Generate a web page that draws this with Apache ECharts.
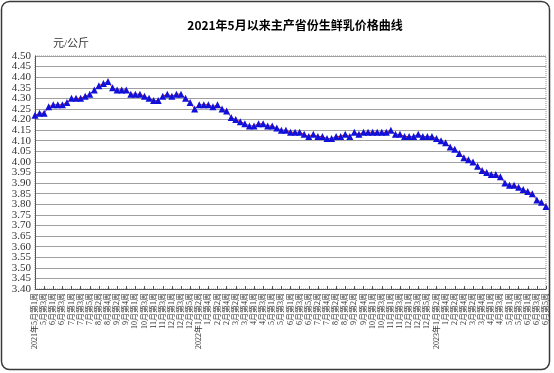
<!DOCTYPE html>
<html>
<head>
<meta charset="utf-8">
<script src="https://cdn.jsdelivr.net/npm/echarts@6/dist/echarts.min.js"></script>
<style>
html,body{margin:0;padding:0;background:#fff;}
#main{width:554px;height:373px;}
</style>
</head>
<body>
<div id="main"></div>
<script>
const titleText = '2021年5月以来主产省份生鲜乳价格曲线';
const unitText = '元/公斤';
const categories = [
'2021年5月第1周','5月第2周','5月第3周','5月第4周',
'6月第1周','6月第2周','6月第3周','6月第4周',
'7月第1周','7月第2周','7月第3周','7月第4周','7月第5周',
'8月第1周','8月第2周','8月第3周','8月第4周',
'9月第1周','9月第2周','9月第3周','9月第4周','9月第5周',
'10月第1周','10月第2周','10月第3周','10月第4周',
'11月第1周','11月第2周','11月第3周','11月第4周',
'12月第1周','12月第2周','12月第3周','12月第4周','12月第5周',
'2022年1月第1周','2022年1月第2周','1月第3周','1月第4周',
'2月第1周','2月第2周','2月第3周','2月第4周',
'3月第1周','3月第2周','3月第3周','3月第4周','3月第5周',
'4月第1周','4月第2周','4月第3周','4月第4周',
'5月第1周','5月第2周','5月第3周','5月第4周',
'6月第1周','6月第2周','6月第3周','6月第4周','6月第5周',
'7月第1周','7月第2周','7月第3周','7月第4周',
'8月第1周','8月第2周','8月第3周','8月第4周',
'9月第1周','9月第2周','9月第3周','9月第4周','9月第5周',
'10月第1周','10月第2周','10月第3周','10月第4周',
'11月第1周','11月第2周','11月第3周','11月第4周',
'12月第1周','12月第2周','12月第3周','12月第4周','12月第5周',
'2023年1月第1周','2023年1月第2周','1月第3周','1月第4周',
'2月第1周','2月第2周','2月第3周','2月第4周',
'3月第1周','3月第2周','3月第3周','3月第4周','3月第5周',
'4月第1周','4月第2周','4月第3周','4月第4周',
'5月第1周','5月第2周','5月第3周','5月第4周',
'6月第1周','6月第2周','6月第3周','6月第4周','6月第5周'
];
const prices = [
4.22,4.23,4.23,4.26,4.27,4.27,4.27,4.28,4.30,4.30,
4.30,4.31,4.32,4.34,4.36,4.37,4.38,4.35,4.34,4.34,
4.34,4.32,4.32,4.32,4.31,4.30,4.29,4.29,4.31,4.32,
4.31,4.32,4.32,4.30,4.28,4.25,4.27,4.27,4.27,4.26,
4.27,4.25,4.24,4.21,4.20,4.19,4.18,4.17,4.17,4.18,
4.18,4.17,4.17,4.16,4.15,4.15,4.14,4.14,4.14,4.13,
4.12,4.13,4.12,4.12,4.11,4.11,4.12,4.12,4.13,4.12,
4.14,4.13,4.14,4.14,4.14,4.14,4.14,4.14,4.15,4.13,
4.13,4.12,4.12,4.12,4.13,4.12,4.12,4.12,4.11,4.10,
4.09,4.07,4.06,4.04,4.02,4.01,4.00,3.98,3.96,3.95,
3.94,3.94,3.93,3.90,3.89,3.89,3.88,3.87,3.86,3.85,
3.82,3.81,3.79
];
// y tick labels, split in two sets so neighbouring labels never collide
const yTicksEven = [3.40,3.50,3.60,3.70,3.80,3.90,4.00,4.10,4.20,4.30,4.40,4.50];
const yTicksOdd  = [3.45,3.55,3.65,3.75,3.85,3.95,4.05,4.15,4.25,4.35,4.45];
const yMin = 3.40, yMax = 4.50, yStep = 0.05;

const serif = '"Liberation Serif","Noto Sans CJK SC",serif';
const yLabel = (vals) => ({
  fontSize: 11, color: '#333', margin: 4, fontFamily: serif,
  customValues: vals,
  showMinLabel: true, showMaxLabel: true,
  formatter: v => v.toFixed(2)
});
const chart = echarts.init(document.getElementById('main'), null, {renderer:'canvas'});
chart.setOption({
  animation: false,
  backgroundColor: '#fff',
  title: {
    text: titleText,
    left: 290, top: 14, textAlign: 'center',
    textStyle: {fontSize: 12, fontWeight: 'bold', color: '#000', fontFamily: '"Noto Sans CJK SC",sans-serif'}
  },
  graphic: [{
    type: 'rect', silent: true,
    shape: {x: 1.5, y: 1.5, width: 548, height: 368, r: 8},
    style: {fill: 'none', stroke: '#3a3a3a', lineWidth: 1.5}
  }],
  grid: {
    left: 35, right: 8, top: 56, bottom: 84,
    show: true, borderColor: '#999', borderWidth: 1, borderType: 'dotted'
  },
  xAxis: {
    type: 'category',
    data: categories,
    boundaryGap: false,
    axisLine: {lineStyle: {color: '#555', width: 1}},
    axisTick: {show: true, inside: true, length: 3, interval: 1, lineStyle: {color: '#555'}},
    axisLabel: {
      rotate: 90, interval: 1, fontSize: 8, margin: 4, color: '#333',
      fontFamily: serif
    },
    splitLine: {show: false}
  },
  yAxis: [{
    type: 'value', position: 'left',
    min: yMin, max: yMax, interval: yStep,
    name: unitText,
    nameLocation: 'end',
    nameGap: 6,
    nameTextStyle: {align: 'left', padding: [0, 0, 0, 18], fontSize: 11, color: '#333', fontFamily: serif},
    axisLine: {show: true, lineStyle: {color: '#555', width: 1}},
    axisTick: {show: false},
    axisLabel: yLabel(yTicksEven),
    splitLine: {show: true, lineStyle: {color: '#a0a0a0', width: 1, type: 'solid'}}
  }, {
    type: 'value', position: 'left', offset: 0,
    min: yMin, max: yMax, interval: yStep,
    axisLine: {show: false},
    axisTick: {show: false},
    axisLabel: yLabel(yTicksOdd),
    splitLine: {show: false}
  }],
  series: [{
    type: 'line',
    yAxisIndex: 0,
    data: prices,
    symbol: 'triangle',
    symbolSize: 7,
    showAllSymbol: true,
    lineStyle: {color: '#e02020', width: 1},
    itemStyle: {color: '#1010d8', borderWidth: 0}
  }]
});
</script>
</body>
</html>
